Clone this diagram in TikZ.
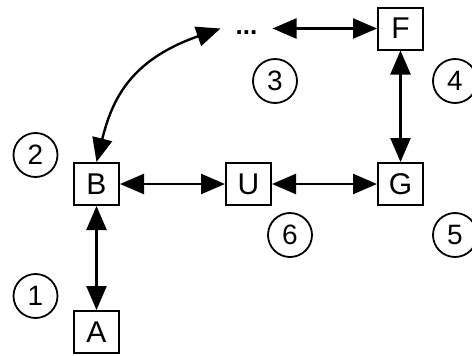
\documentclass[tikz,border=0pt]{standalone}
\usepackage{fontspec}
\setmainfont{Liberation Sans}
\usetikzlibrary{arrows.meta}
\begin{document}
\begin{tikzpicture}[x=1pt,y=1pt,
  box/.style={draw,line width=2pt,minimum width=45pt,minimum height=42pt,inner sep=0pt,font=\fontsize{30}{30}\selectfont},
  num/.style={draw,circle,line width=1.8pt,minimum size=44pt,inner sep=0pt,font=\fontsize{28}{28}\selectfont},
  link/.style={line width=2.4pt,{Triangle[length=24pt,width=20pt]}-{Triangle[length=24pt,width=20pt]}}]
\clip (0,0) rectangle (472,-356);
\useasboundingbox (0,0) rectangle (472,-356);
\node[box] (B) at (96.5,-184) {B};
\node[box] (U) at (248.5,-184) {U};
\node[box] (G) at (400.5,-184) {G};
\node[box] (F) at (400.5,-28.5) {F};
\node[box] (A) at (96.5,-332) {A};
\node[font=\fontsize{26}{26}\selectfont\bfseries,inner xsep=15pt,inner ysep=0pt,text height=12pt,text depth=0pt] (D) at (246.5,-28.5) {...};
\node[num] (n1) at (35.5,-296) {1};
\node[num] (n2) at (35.5,-155) {2};
\node[num] (n3) at (275,-81) {3};
\node[num] (n4) at (455,-81) {4};
\node[num] (n5) at (455,-235) {5};
\node[num] (n6) at (290,-235) {6};
\draw[link] (A) -- (B);
\draw[link] (B) -- (U);
\draw[link] (U) -- (G);
\draw[link] (G) -- (F);
\draw[link] (D) -- (F);
\draw[link] (B.north) .. controls (112,-100) and (130,-60) .. (D.west);
\end{tikzpicture}
\end{document}
